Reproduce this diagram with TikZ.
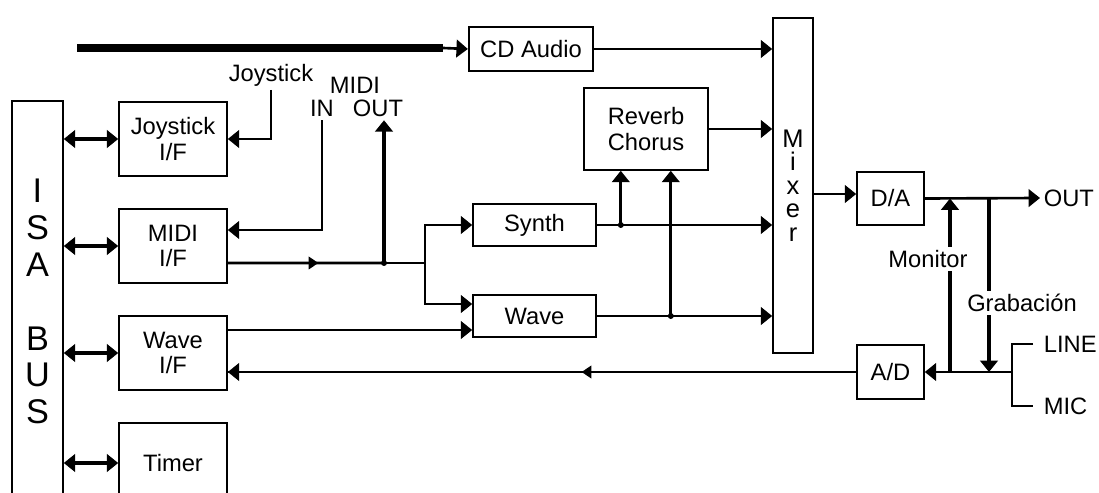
\documentclass[tikz,border=0pt]{standalone}
\usepackage{fontspec}
\setmainfont{Liberation Sans}
\usetikzlibrary{arrows.meta, positioning, calc, decorations.markings}

\begin{document}
\begin{tikzpicture}[
    x=0.02cm, y=-0.02cm,
    font=\fontsize{13.5}{14.5}\selectfont,
    box/.style={rectangle, draw=black, line width=0.9pt, align=center, inner sep=0pt},
    ifbox/.style={box, minimum width=2.16cm, minimum height=1.48cm},
    sndbox/.style={box, minimum width=2.46cm, minimum height=0.84cm},
    convbox/.style={box, minimum width=1.34cm, minimum height=1.07cm},
    lbl/.style={inner sep=2pt, align=center},
    conn/.style={line width=1.5pt},
    thickconn/.style={line width=2.5pt},
    dbl/.style={thickconn, {Triangle[length=6.5pt, width=10pt]}-{Triangle[length=6.5pt, width=10pt]}},
    midarrow/.style={postaction={decorate}, decoration={markings,
        mark=at position #1 with {\arrow{Triangle[length=5.5pt, width=7pt]}}}},
    >={Triangle[length=6.5pt, width=10pt]}
]
\useasboundingbox (0,0) rectangle (1099,493);

% ISA bus and interfaces
\node[box, minimum width=1.02cm, minimum height=8.02cm, font=\fontsize{19.5}{21}\selectfont] (isa) at (37.5,301.5) {I\\S\\A\\[21pt]B\\U\\S};
\node[ifbox] (joyif) at (173,139) {Joystick\\I/F};
\node[ifbox] (midiif) at (173,246) {MIDI\\I/F};
\node[ifbox] (waveif) at (173,353) {Wave\\I/F};
\node[box, minimum width=2.16cm, minimum height=1.6cm] (timer) at (173,463) {Timer};

% Sound blocks
\node[box, line width=1.3pt, minimum width=2.48cm, minimum height=0.88cm] (cd) at (531,49) {CD Audio};
\node[box, minimum width=2.48cm, minimum height=1.64cm] (reverb) at (646,129) {Reverb\\Chorus};
\node[sndbox] (synth) at (534.5,225) {Synth};
\node[sndbox] (wave) at (534.5,316) {Wave};
\node[box, minimum width=0.8cm, minimum height=6.7cm, font=\fontsize{14.5}{13.4}\selectfont] (mixer) at (793,185.5) {M\\i\\x\\e\\r};
\node[convbox] (da) at (890.5,198.5) {D/A};
\node[convbox] (ad) at (890.5,372) {A/D};

% Labels
\node[lbl] (joylbl) at (271,75) {Joystick};
\node[lbl] (midilbl) at (355,85) {MIDI};
\node[lbl] (inlbl) at (322,108) {IN};
\node[lbl] (outlbl) at (378,108) {OUT};
\node[lbl, anchor=west] (outr) at (1040,198) {OUT};
\node[lbl, anchor=west] (linelbl) at (1040,344) {LINE};
\node[lbl, anchor=west] (miclbl) at (1040,406) {MIC};

% Junctions
\coordinate (busin) at (77,48);
\coordinate (busend) at (443,48);
\coordinate (midijn) at (384,263);
\coordinate (split) at (425,263);
\coordinate (synthjn) at ($(synth.east)+(24,0)$);
\coordinate (wavejn) at ($(wave.east)+(74,0)$);
\coordinate (monbot) at (950,372);
\coordinate (grabtop) at (989,198.5);
\coordinate (adin) at (1012,372);

% ISA bus connections
\foreach \b in {joyif, midiif, waveif, timer}
    \draw[dbl] (isa.east |- \b.west) -- (\b.west);

% CD audio
\draw[line width=4.5pt] (busin) -- (busend);
\draw[conn, ->] (busend) -- (cd.west);

% Joystick and MIDI
\draw[conn, ->] (joylbl.south) |- (joyif.east);
\draw[conn, ->] (inlbl.south) |- ([yshift=0.32cm]midiif.east);
\draw[conn, midarrow=0.58] ([yshift=-0.34cm]midiif.east) -- (midijn);
\draw[conn] (midijn) -- (split);
\draw[thickconn, ->] (midijn) -- (midijn |- outlbl.south);
\fill (midijn) circle (1.7pt);
\draw[conn, ->] (split) |- (synth.west);
\draw[conn, ->] (split) |- ([yshift=0.24cm]wave.west);
\draw[conn, ->] ([yshift=0.46cm]waveif.east) -- ([yshift=0.46cm]waveif.east -| wave.west);

% Mixer inputs
\foreach \s in {cd, reverb, synth, wave}
    \draw[conn, ->] (\s.east) -- (\s.east -| mixer.west);
\draw[conn, ->] (synthjn) -- (synthjn |- reverb.south);
\draw[conn, ->] (wavejn) -- (wavejn |- reverb.south);
\fill (synthjn) circle (1.7pt);
\fill (wavejn) circle (1.7pt);

% Output and recording
\draw[conn, ->] ([yshift=0.09cm]da.west -| mixer.east) -- ([yshift=0.09cm]da.west);
\draw[conn, ->] (da.east) -- (outr.west);
\draw[conn, ->] (adin) -- (ad.east);
\draw[conn] ($(linelbl.west)+(-7,0)$) -| (adin) |- ($(miclbl.west)+(-7,0)$);
\draw[conn, midarrow=0.437] (ad.west) -- (ad.west -| waveif.east);
\draw[conn, ->] (ad.west -| waveif.east) ++(10,0) -- (ad.west -| waveif.east);
\draw[thickconn, ->] (monbot) -- (monbot |- da.east);
\draw[thickconn, ->] (grabtop) -- (grabtop |- ad.east);
\node[lbl, fill=white] (monlbl) at (928,259) {Monitor};
\node[lbl, fill=white] (grablbl) at (1022,303) {Grabación};

\end{tikzpicture}
\end{document}
